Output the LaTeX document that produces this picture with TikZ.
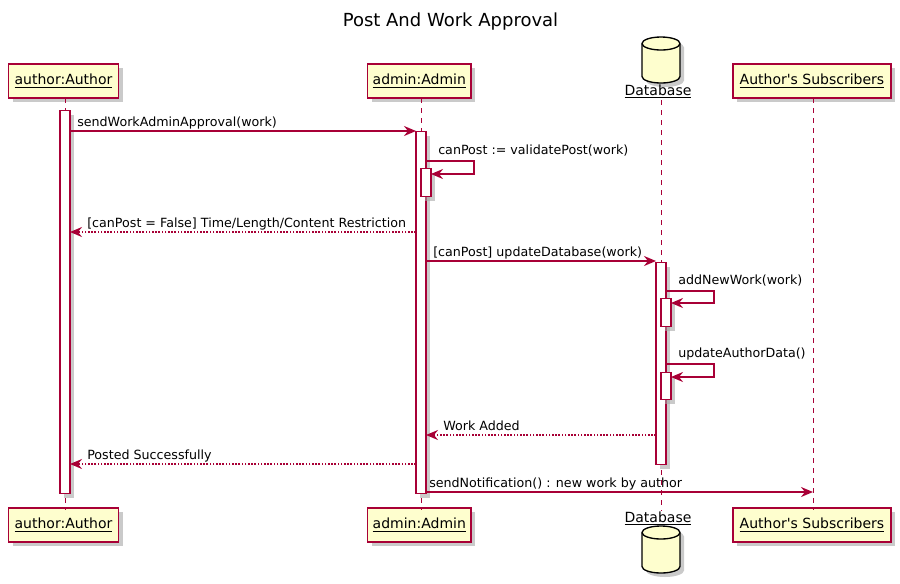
\documentclass[tikz,border=0pt]{standalone}
\usepackage{fontspec}
\setmainfont{DejaVu Sans}
\usetikzlibrary{arrows.meta,shadows}
\definecolor{pbord}{HTML}{A80036}
\definecolor{pfill}{HTML}{FEFECE}
\begin{document}
\begin{tikzpicture}[x=0.75pt,y=-0.75pt,
  font=\fontsize{9.5}{11.4}\selectfont,
  shad/.style={drop shadow={shadow xshift=3pt,shadow yshift=-3pt,fill=black!35,opacity=0.6}},
  part/.style={draw=pbord,fill=pfill,line width=1.1pt,minimum height=25.5pt,inner sep=0pt,
    font=\fontsize{10.5}{12.6}\selectfont,shad},
  dblbl/.style={inner sep=0pt,font=\fontsize{10.5}{12.6}\selectfont},
  act/.style={draw=pbord,fill=white,line width=0.9pt,minimum width=7.5pt,inner sep=0pt,anchor=north,shad},
  lifeline/.style={draw=pbord,line width=0.75pt,dash pattern=on 3.75pt off 3.75pt},
  msg/.style={draw=pbord,line width=1.4pt,-{Stealth[length=9pt,width=7.5pt,inset=3pt]}},
  ret/.style={msg,line width=1.2pt,dash pattern=on 1.2pt off 1.2pt},
  lbl/.style={anchor=base west,inner sep=0pt}]
\useasboundingbox (0,0) rectangle (900,583);

% title
\node[anchor=base,inner sep=0pt,font=\fontsize{13.5}{16}\selectfont] (title) at (450.5,26.5) {Post And Work Approval};

% participants top
\node[part,minimum width=82.5pt] (aT) at (63.5,81) {\underline{author:Author}};
\node[part,minimum width=77.6pt] (adT) at (419.3,81) {\underline{admin:Admin}};
\coordinate (dbT) at (661,60);
\path[fill=pfill,shad] (642,43.5) -- (642,76.5) arc[start angle=180,end angle=360,x radius=14.25pt,y radius=4.875pt]
  -- (680,43.5) arc[start angle=0,end angle=180,x radius=14.25pt,y radius=4.875pt] -- cycle;
\draw[line width=1pt] (642,43.5) -- (642,76.5) arc[start angle=180,end angle=360,x radius=14.25pt,y radius=4.875pt]
  -- (680,43.5) arc[start angle=0,end angle=180,x radius=14.25pt,y radius=4.875pt] -- cycle;
\draw[line width=1pt] (642,43.5) arc[start angle=180,end angle=360,x radius=14.25pt,y radius=4.875pt];
\node[dblbl,anchor=base] (dbTl) at (658,95.5) {\underline{Database}};
\node[part,minimum width=118.5pt] (sT) at (812,81) {\underline{Author\textquotesingle s Subscribers}};

% participants bottom
\node[part,minimum width=82.5pt] (aB) at (63.5,525) {\underline{author:Author}};
\node[part,minimum width=77.6pt] (adB) at (419.3,525) {\underline{admin:Admin}};
\node[dblbl,anchor=base] (dbBl) at (658,522) {\underline{Database}};
\coordinate (dbB) at (661,549.5);
\path[fill=pfill,shad] (642,532.5) -- (642,566.5) arc[start angle=180,end angle=360,x radius=14.25pt,y radius=4.875pt]
  -- (680,532.5) arc[start angle=0,end angle=180,x radius=14.25pt,y radius=4.875pt] -- cycle;
\draw[line width=1pt] (642,532.5) -- (642,566.5) arc[start angle=180,end angle=360,x radius=14.25pt,y radius=4.875pt]
  -- (680,532.5) arc[start angle=0,end angle=180,x radius=14.25pt,y radius=4.875pt] -- cycle;
\draw[line width=1pt] (642,532.5) arc[start angle=180,end angle=360,x radius=14.25pt,y radius=4.875pt];
\node[part,minimum width=118.5pt] (sB) at (812,525) {\underline{Author\textquotesingle s Subscribers}};

% lifelines
\coordinate (aL1) at (65,98); \coordinate (aL2) at (65,510);
\coordinate (adL1) at (421,98); \coordinate (adL2) at (421,510);
\coordinate (dbL1) at (661,100); \coordinate (dbL2) at (661,511);
\coordinate (sL1) at (813,98); \coordinate (sL2) at (813,510);
\draw[lifeline] (aL1) -- (aL2);
\draw[lifeline] (adL1) -- (adL2);
\draw[lifeline] (dbL1) -- (dbL2);
\draw[lifeline] (sL1) -- (sL2);

% activations
\node[act,minimum height=287.25pt] (aA) at (65,110) {};
\node[act,minimum height=271.5pt] (adA) at (421,131) {};
\node[act,minimum height=21pt] (adA2) at (426,168) {};
\node[act,minimum height=151.5pt] (dbA) at (661,262) {};
\node[act,minimum height=21pt] (dbA2) at (666,298) {};
\node[act,minimum height=20.25pt] (dbA3) at (666,372) {};

% messages
\coordinate (m1s) at (70,131); \coordinate (m1e) at (416,131);
\draw[msg] (m1s) -- (m1e);
\node[lbl] (t1) at (77,126) {sendWorkAdminApproval(work)};

\coordinate (m2s) at (426,161); \coordinate (m2a) at (474,161);
\coordinate (m2b) at (474,174); \coordinate (m2e) at (431,174);
\draw[msg] (m2s) -- (m2a) -- (m2b) -- (m2e);
\node[lbl] (t2) at (438,154.5) {canPost := validatePost(work)};

\coordinate (m3s) at (416,232); \coordinate (m3e) at (70,232);
\draw[ret] (m3s) -- (m3e);
\node[lbl] (t3) at (87,227) {[canPost = False] Time/Length/Content Restriction};

\coordinate (m4s) at (426,261); \coordinate (m4e) at (656,261);
\draw[msg] (m4s) -- (m4e);
\node[lbl] (t4) at (433,256.5) {[canPost] updateDatabase(work)};

\coordinate (m5s) at (666,291); \coordinate (m5a) at (714,291);
\coordinate (m5b) at (714,303); \coordinate (m5e) at (671,303);
\draw[msg] (m5s) -- (m5a) -- (m5b) -- (m5e);
\node[lbl] (t5) at (678,284.5) {addNewWork(work)};

\coordinate (m6s) at (666,364); \coordinate (m6a) at (714,364);
\coordinate (m6b) at (714,377); \coordinate (m6e) at (671,377);
\draw[msg] (m6s) -- (m6a) -- (m6b) -- (m6e);
\node[lbl] (t6) at (678,357.5) {updateAuthorData()};

\coordinate (m7s) at (656,435); \coordinate (m7e) at (426,435);
\draw[ret] (m7s) -- (m7e);
\node[lbl] (t7) at (443,430) {Work Added};

\coordinate (m8s) at (416,464); \coordinate (m8e) at (70,464);
\draw[ret] (m8s) -- (m8e);
\node[lbl] (t8) at (87,459) {Posted Successfully};

\coordinate (m9s) at (426,492); \coordinate (m9e) at (813,492);
\draw[msg] (m9s) -- (m9e);
\node[lbl] (t9) at (429,487.5) {sendNotification() : new work by author};
\end{tikzpicture}
\end{document}
